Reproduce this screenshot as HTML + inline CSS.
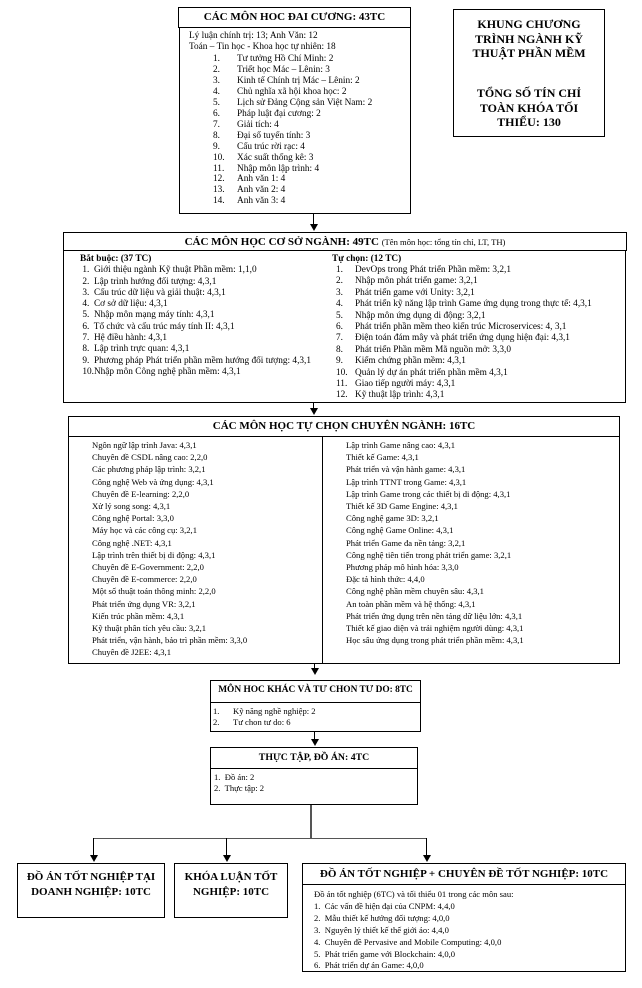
<!DOCTYPE html>
<html><head><meta charset="utf-8"><style>
body{margin:0;width:642px;height:988px;background:#fff;position:relative;font-family:"Liberation Serif","Noto Serif CJK SC",serif;color:#000;overflow:hidden}
.b{position:absolute;border:1.3px solid #000;box-sizing:border-box;background:#fff}
.t{position:absolute;font-size:8.6px;white-space:nowrap;line-height:11px}
.h{position:absolute;font-weight:bold;text-align:center;white-space:nowrap}
.l{position:absolute;background:#000}
.ar{position:absolute;width:0;height:0;border-left:4px solid transparent;border-right:4px solid transparent;border-top:7px solid #000}
</style></head><body>

<!-- Box 1 -->
<div class="b" style="left:178px;top:7px;width:233px;height:21px"></div>
<div class="h" style="left:178px;top:11px;width:233px;font-size:11px">CÁC MÔN HOC ĐAI CƯƠNG: 43TC</div>
<div class="b" style="left:179px;top:27px;width:232px;height:187px"></div>
<div class="t" style="left:189px;top:31px;font-size:9.3px">Lý luận chính trị: 13; Anh Văn: 12<br>Toán – Tin học - Khoa học tự nhiên: 18</div>
<div class="t" style="left:213px;top:54px;line-height:10.95px;font-size:9.3px">1.<br>2.<br>3.<br>4.<br>5.<br>6.<br>7.<br>8.<br>9.<br>10.<br>11.<br>12.<br>13.<br>14.</div>
<div class="t" style="left:237px;top:54px;line-height:10.95px;font-size:9.3px">Tư tưởng Hồ Chí Minh: 2<br>Triết học Mác – Lênin: 3<br>Kinh tế Chính trị Mác – Lênin: 2<br>Chủ nghĩa xã hội khoa học: 2<br>Lịch sử Đảng Cộng sản Việt Nam: 2<br>Pháp luật đại cương: 2<br>Giải tích: 4<br>Đại số tuyến tính: 3<br>Cấu trúc rời rạc: 4<br>Xác suất thống kê: 3<br>Nhập môn lập trình: 4<br>Anh văn 1: 4<br>Anh văn 2: 4<br>Anh văn 3: 4</div>

<!-- Title box -->
<div class="b" style="left:453px;top:9px;width:152px;height:128px"></div>
<div class="h" style="left:453px;top:17px;width:152px;font-size:12px;line-height:14.5px">KHUNG CHƯƠNG<br>TRÌNH NGÀNH KỸ<br>THUẬT PHẦN MỀM</div>
<div class="h" style="left:453px;top:86px;width:152px;font-size:12px;line-height:14.5px">TỔNG SỐ TÍN CHỈ<br>TOÀN KHÓA TỐI<br>THIỂU: 130</div>

<div class="l" style="left:313px;top:214px;width:1.3px;height:10px"></div>
<div class="ar" style="left:310px;top:224px"></div>

<!-- Box 2 -->
<div class="b" style="left:63px;top:232px;width:564px;height:19px"></div>
<div class="h" style="left:63px;top:236px;width:564px;font-size:11px">CÁC MÔN HỌC CƠ SỞ NGÀNH: 49TC <span style="font-weight:normal;font-size:8.6px">(Tên môn học: tổng tín chỉ, LT, TH)</span></div>
<div class="b" style="left:63px;top:250px;width:563px;height:153px"></div>
<div class="t" style="left:80px;top:254px;line-height:11.3px;font-size:9.3px"><b>Bắt buộc: (37 TC)</b><br>&nbsp;1.&nbsp; Giới thiệu ngành Kỹ thuật Phần mềm: 1,1,0<br>&nbsp;2.&nbsp; Lập trình hướng đối tượng: 4,3,1<br>&nbsp;3.&nbsp; Cấu trúc dữ liệu và giải thuật: 4,3,1<br>&nbsp;4.&nbsp; Cơ sở dữ liệu: 4,3,1<br>&nbsp;5.&nbsp; Nhập môn mạng máy tính: 4,3,1<br>&nbsp;6.&nbsp; Tổ chức và cấu trúc máy tính II: 4,3,1<br>&nbsp;7.&nbsp; Hệ điều hành: 4,3,1<br>&nbsp;8.&nbsp; Lập trình trực quan: 4,3,1<br>&nbsp;9.&nbsp; Phương pháp Phát triển phần mềm hướng đối tượng: 4,3,1<br>&nbsp;10.Nhập môn Công nghệ phần mềm: 4,3,1</div>
<div class="t" style="left:332px;top:254px;font-size:9.3px"><b>Tự chọn: (12 TC)</b></div>
<div class="t" style="left:336px;top:265px;line-height:11.4px;font-size:9.3px">1.<br>2.<br>3.<br>4.<br>5.<br>6.<br>7.<br>8.<br>9.<br>10.<br>11.<br>12.</div>
<div class="t" style="left:355px;top:265px;line-height:11.4px;font-size:9.3px">DevOps trong Phát triển Phần mềm: 3,2,1<br>Nhập môn phát triển game: 3,2,1<br>Phát triển game với Unity: 3,2,1<br>Phát triển kỹ năng lập trình Game ứng dụng trong thực tế: 4,3,1<br>Nhập môn ứng dụng di động: 3,2,1<br>Phát triển phần mềm theo kiến trúc Microservices: 4, 3,1<br>Điện toán đám mây và phát triển ứng dụng hiện đại: 4,3,1<br>Phát triển Phần mềm Mã nguồn mở: 3,3,0<br>Kiểm chứng phần mềm: 4,3,1<br>Quản lý dự án phát triển phần mềm 4,3,1<br>Giao tiếp người máy: 4,3,1<br>Kỹ thuật lập trình: 4,3,1</div>

<div class="l" style="left:313px;top:402px;width:1.3px;height:6px"></div>
<div class="ar" style="left:310px;top:408px"></div>

<!-- Box 3 -->
<div class="b" style="left:68px;top:416px;width:552px;height:21px"></div>
<div class="h" style="left:68px;top:420px;width:552px;font-size:11px">CÁC MÔN HỌC TỰ CHỌN CHUYÊN NGÀNH: 16TC</div>
<div class="b" style="left:68px;top:436px;width:552px;height:228px"></div>
<div class="l" style="left:322px;top:436px;width:1.3px;height:228px"></div>
<div class="t" style="left:92px;top:439px;line-height:12.2px">Ngôn ngữ lập trình Java: 4,3,1<br>Chuyên đề CSDL nâng cao: 2,2,0<br>Các phương pháp lập trình: 3,2,1<br>Công nghệ Web và ứng dụng: 4,3,1<br>Chuyên đề E-learning: 2,2,0<br>Xử lý song song: 4,3,1<br>Công nghệ Portal: 3,3,0<br>Máy học và các công cụ: 3,2,1<br>Công nghệ .NET: 4,3,1<br>Lập trình trên thiết bị di động: 4,3,1<br>Chuyên đề E-Government: 2,2,0<br>Chuyên đề E-commerce: 2,2,0<br>Một số thuật toán thông minh: 2,2,0<br>Phát triển ứng dụng VR: 3,2,1<br>Kiến trúc phần mềm: 4,3,1<br>Kỹ thuật phân tích yêu cầu: 3,2,1<br>Phát triển, vận hành, bảo trì phần mềm: 3,3,0<br>Chuyên đề J2EE: 4,3,1</div>
<div class="t" style="left:346px;top:439px;line-height:12.2px">Lập trình Game nâng cao: 4,3,1<br>Thiết kế Game: 4,3,1<br>Phát triển và vận hành game: 4,3,1<br>Lập trình TTNT trong Game: 4,3,1<br>Lập trình Game trong các thiết bị di động: 4,3,1<br>Thiết kế 3D Game Engine: 4,3,1<br>Công nghệ game 3D: 3,2,1<br>Công nghệ Game Online: 4,3,1<br>Phát triển Game đa nền tảng: 3,2,1<br>Công nghệ tiên tiến trong phát triển game: 3,2,1<br>Phương pháp mô hình hóa: 3,3,0<br>Đặc tả hình thức: 4,4,0<br>Công nghệ phần mềm chuyên sâu: 4,3,1<br>An toàn phần mềm và hệ thống: 4,3,1<br>Phát triển ứng dụng trên nền tảng dữ liệu lớn: 4,3,1<br>Thiết kế giao diện và trải nghiệm người dùng: 4,3,1<br>Học sâu ứng dụng trong phát triển phần mềm: 4,3,1</div>

<div class="l" style="left:314px;top:664px;width:1.3px;height:5px"></div>
<div class="ar" style="left:311px;top:668px"></div>

<!-- Box 4 -->
<div class="b" style="left:210px;top:680px;width:211px;height:52px"></div>
<div class="l" style="left:210px;top:702px;width:211px;height:1.3px"></div>
<div class="h" style="left:210px;top:685px;width:211px;font-size:9.4px">MÔN HOC KHÁC VÀ TƯ CHON TƯ DO: 8TC</div>
<div class="t" style="left:213px;top:706px;line-height:10.5px">1.<br>2.</div>
<div class="t" style="left:233px;top:706px;line-height:10.5px">Kỹ năng nghề nghiệp: 2<br>Tư chon tư do: 6</div>

<div class="l" style="left:314px;top:732px;width:1.3px;height:8px"></div>
<div class="ar" style="left:311px;top:739px"></div>

<!-- Box 5 -->
<div class="b" style="left:210px;top:747px;width:208px;height:58px"></div>
<div class="l" style="left:210px;top:768px;width:208px;height:1.3px"></div>
<div class="h" style="left:210px;top:752px;width:208px;font-size:9.8px">THỰC TẬP, ĐỒ ÁN: 4TC</div>
<div class="t" style="left:214px;top:772px;line-height:10.5px">1.&nbsp; Đồ án: 2<br>2.&nbsp; Thực tập: 2</div>

<!-- connectors -->
<div class="l" style="left:310px;top:805px;width:1.5px;height:34px;background:#555"></div>
<div class="l" style="left:93px;top:838px;width:334px;height:1.3px;background:#555"></div>
<div class="l" style="left:93px;top:838px;width:1.3px;height:17px"></div>
<div class="ar" style="left:90px;top:855px"></div>
<div class="l" style="left:226px;top:838px;width:1.3px;height:17px"></div>
<div class="ar" style="left:223px;top:855px"></div>
<div class="l" style="left:426px;top:838px;width:1.3px;height:17px"></div>
<div class="ar" style="left:423px;top:855px"></div>

<!-- bottom boxes -->
<div class="b" style="left:17px;top:863px;width:148px;height:55px"></div>
<div class="h" style="left:17px;top:870px;width:148px;font-size:11px;line-height:15px">ĐỒ ÁN TỐT NGHIỆP TẠI<br>DOANH NGHIỆP: 10TC</div>
<div class="b" style="left:174px;top:863px;width:114px;height:55px"></div>
<div class="h" style="left:174px;top:870px;width:114px;font-size:11px;line-height:15px">KHÓA LUẬN TỐT<br>NGHIỆP: 10TC</div>
<div class="b" style="left:302px;top:863px;width:324px;height:109px"></div>
<div class="l" style="left:302px;top:884px;width:324px;height:1.3px"></div>
<div class="h" style="left:302px;top:868px;width:324px;font-size:11px">ĐỒ ÁN TỐT NGHIỆP + CHUYÊN ĐỀ TỐT NGHIỆP: 10TC</div>
<div class="t" style="left:314px;top:889px;line-height:11.9px">Đồ án tốt nghiệp (6TC) và tối thiểu 01 trong các môn sau:<br>1.&nbsp; Các vấn đề hiện đại của CNPM: 4,4,0<br>2.&nbsp; Mẫu thiết kế hướng đối tượng: 4,0,0<br>3.&nbsp; Nguyên lý thiết kế thế giới ảo: 4,4,0<br>4.&nbsp; Chuyên đề Pervasive and Mobile Computing: 4,0,0<br>5.&nbsp; Phát triển game với Blockchain: 4,0,0<br>6.&nbsp; Phát triển dự án Game: 4,0,0</div>

</body></html>
